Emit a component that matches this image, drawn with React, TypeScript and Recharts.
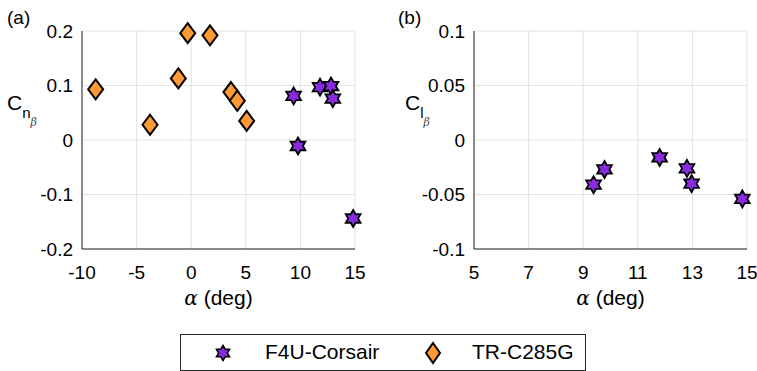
import React from 'react';
import { ScatterChart, Scatter, XAxis, YAxis, CartesianGrid } from 'recharts';

// angle of attack (deg) and derivatives
const f4uAlpha = [9.38, 9.78, 11.8, 12.8, 12.97, 14.83];
const f4uCn = [0.081, -0.011, 0.097, 0.099, 0.076, -0.144];
const f4uCl = [-0.041, -0.027, -0.016, -0.026, -0.04, -0.054];

const trAlpha = [-8.75, -3.77, -1.18, -0.32, 1.72, 3.64, 4.22, 5.08];
const trCn = [0.093, 0.028, 0.113, 0.196, 0.192, 0.088, 0.072, 0.035];

const xTicksA = [-10, -5, 0, 5, 10, 15];
const yTicksA = [-0.2, -0.1, 0, 0.1, 0.2];
const xTicksB = [5, 7, 9, 11, 13, 15];
const yTicksB = [-0.1, -0.05, 0, 0.05, 0.1];

const f4uA = f4uAlpha.map((a, i) => ({ x: a, y: f4uCn[i] }));
const f4uB = f4uAlpha.map((a, i) => ({ x: a, y: f4uCl[i] }));
const trA = trAlpha.map((a, i) => ({ x: a, y: trCn[i] }));

const FONT = '"Liberation Sans", Arial, Helvetica, sans-serif';
const AXIS = '#262626';
const GRID = '#e3e3e3';
const PURPLE = '#8a2be2';
const ORANGE = '#ff9933';

const starPoints = (cx: number, cy: number, R: number) => {
  const r = R / Math.sqrt(3);
  const pts: string[] = [];
  for (let i = 0; i < 12; i++) {
    const rad = i % 2 === 0 ? R : r;
    const ang = -Math.PI / 2 + (i * Math.PI) / 6;
    pts.push(`${cx + rad * Math.cos(ang)},${cy + rad * Math.sin(ang)}`);
  }
  return pts.join(' ');
};

const Star = (props: any) => (
  <polygon points={starPoints(props.cx, props.cy, 8.5)} fill={PURPLE} stroke="#000" strokeWidth={1.8} />
);

const Diamond = (props: any) => {
  const { cx, cy } = props;
  return (
    <polygon
      points={`${cx},${cy - 10} ${cx + 7.5},${cy} ${cx},${cy + 10} ${cx - 7.5},${cy}`}
      fill={ORANGE}
      stroke="#000"
      strokeWidth={2}
    />
  );
};

const tickStyle = { fontSize: 19, fill: '#000', fontFamily: FONT };

const XLabel = ({ cx }: { cx: number }) => (
  <text x={cx} y={305} textAnchor="middle" fontSize={21} fontFamily={FONT} fill="#000">
    <tspan fontStyle="italic" fontFamily="'DejaVu Serif', serif" fontSize={20}>α</tspan>
    <tspan> (deg)</tspan>
  </text>
);

const YLabel = ({ x, sub }: { x: number; sub: string }) => (
  <text x={x} y={110} fontSize={21} fontFamily={FONT} fill="#000">
    C
    <tspan fontSize={15} dy={8}>{sub}</tspan>
    <tspan fontSize={11} dy={8} fontStyle="italic" fontFamily="'DejaVu Serif', serif" fill="#444">β</tspan>
  </text>
);

const Panel = (props: {
  left: number;
  width: number;
  yWidth: number;
  xDomain: number[];
  yDomain: number[];
  xTicks: number[];
  yTicks: number[];
  letter: string;
  letterX: number;
  sub: string;
  labelX: number;
  children: React.ReactNode;
}) => {
  const plotW = 273;
  return (
    <div style={{ position: 'absolute', left: props.left, top: 0 }}>
      <ScatterChart
        width={props.width}
        height={320}
        margin={{ top: 31, right: props.width - props.yWidth - plotW, left: 0, bottom: 0 }}
      >
        <CartesianGrid stroke={GRID} horizontalValues={props.yTicks} verticalValues={props.xTicks} />
        <XAxis
          type="number"
          dataKey="x"
          domain={props.xDomain}
          ticks={props.xTicks}
          height={71}
          stroke={AXIS}
          tickLine={false}
          tickSize={0}
          tickMargin={17}
          tick={tickStyle}
          label={{ content: () => <XLabel cx={props.yWidth + plotW / 2} /> }}
        />
        <YAxis
          type="number"
          dataKey="y"
          domain={props.yDomain}
          ticks={props.yTicks}
          width={props.yWidth}
          stroke={AXIS}
          tickLine={false}
          tickSize={0}
          tickMargin={9}
          tick={tickStyle}
          label={{ content: () => <YLabel x={props.labelX} sub={props.sub} /> }}
        />
        {props.children}
        <text x={props.letterX} y={24} fontSize={19} fontFamily={FONT} fill="#000">
          {props.letter}
        </text>
      </ScatterChart>
    </div>
  );
};

export default function App() {
  return (
    <div
      style={{
        position: 'absolute',
        left: 0,
        top: 0,
        width: 757,
        height: 371,
        background: '#fff',
        fontFamily: FONT,
        overflow: 'hidden',
      }}
    >
      <Panel
        left={0}
        width={380}
        yWidth={82}
        xDomain={[-10, 15]}
        yDomain={[-0.2, 0.2]}
        xTicks={xTicksA}
        yTicks={yTicksA}
        letter="(a)"
        letterX={7}
        sub="n"
        labelX={7}
      >
        <Scatter name="F4U-Corsair" data={f4uA} shape={Star} isAnimationActive={false} />
        <Scatter name="TR-C285G" data={trA} shape={Diamond} isAnimationActive={false} />
      </Panel>
      <Panel
        left={380}
        width={377}
        yWidth={94}
        xDomain={[5, 15]}
        yDomain={[-0.1, 0.1]}
        xTicks={xTicksB}
        yTicks={yTicksB}
        letter="(b)"
        letterX={18}
        sub="l"
        labelX={25}
      >
        <Scatter name="F4U-Corsair" data={f4uB} shape={Star} isAnimationActive={false} />
      </Panel>

      <div
        style={{
          position: 'absolute',
          left: 180,
          top: 334,
          width: 406,
          height: 37,
          boxSizing: 'border-box',
          border: `1px solid ${AXIS}`,
          background: '#fff',
          fontSize: 21,
          color: '#000',
        }}
      >
        <svg width={20} height={20} style={{ position: 'absolute', left: 32, top: 8 }}>
          <polygon points={starPoints(10, 10, 7.5)} fill={PURPLE} stroke="#000" strokeWidth={1.6} />
        </svg>
        <span style={{ position: 'absolute', left: 84, top: 5, lineHeight: '24px' }}>F4U-Corsair</span>
        <svg width={20} height={24} style={{ position: 'absolute', left: 242, top: 6 }}>
          <polygon points="10,2 17,12 10,22 3,12" fill={ORANGE} stroke="#000" strokeWidth={2} />
        </svg>
        <span style={{ position: 'absolute', left: 291, top: 5, lineHeight: '24px' }}>TR-C285G</span>
      </div>
    </div>
  );
}
